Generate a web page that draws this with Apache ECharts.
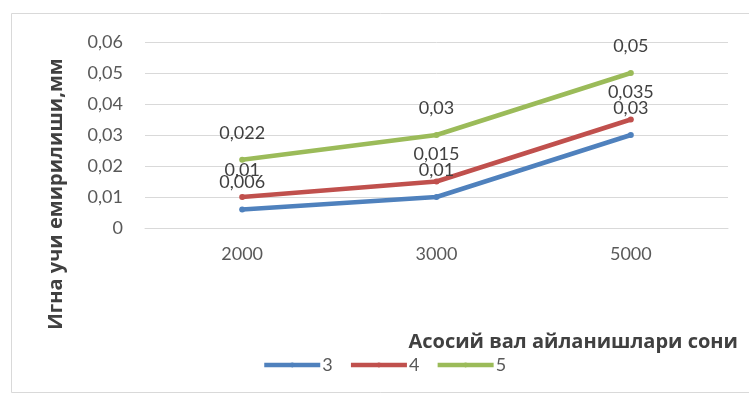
<!DOCTYPE html>
<html>
<head>
<meta charset="utf-8">
<script src="https://cdn.jsdelivr.net/npm/echarts@6/dist/echarts.min.js"></script>
<style>
  html, body { margin: 0; padding: 0; background: #fff; }
  #chart { width: 749px; height: 397px; }
</style>
</head>
<body>
<div id="chart"></div>
<script>
// Shaft speed categories (x axis)
const categories = ['2000', '3000', '5000'];
// Needle tip wear, mm, per series
const series3 = [0.006, 0.01, 0.03];
const series4 = [0.01, 0.015, 0.035];
const series5 = [0.022, 0.03, 0.05];
const seriesNames = ['3', '4', '5'];
const seriesColors = ['#4f81bd', '#c0504d', '#9bbb59'];

const yTitle = 'Игна учи емирилиши,мм';
const xTitle = 'Асосий вал айланишлари сони';

const numFont = 'Lato, "Open Sans", sans-serif';
const titleFont = '"Open Sans", "Noto Sans", sans-serif';

const fmt = v => String(v).replace('.', ',');

function makeLine(name, data, color) {
  return {
    name: name,
    type: 'line',
    data: data,
    symbol: 'circle',
    symbolSize: 6,
    lineStyle: { width: 4.5, color: color },
    itemStyle: { color: color },
    label: {
      show: true,
      position: 'top',
      distance: 15,
      color: '#404040',
      fontFamily: numFont,
      fontSize: 18,
      formatter: p => fmt(p.value)
    },
    emphasis: { disabled: true },
    animation: false
  };
}

const chart = echarts.init(document.getElementById('chart'), null, { renderer: 'canvas' });
chart.setOption({
  backgroundColor: '#fff',
  animation: false,
  grid: { left: 145, right: 21, top: 42, bottom: 169, containLabel: false },
  xAxis: {
    type: 'category',
    data: categories,
    boundaryGap: true,
    axisLine: { show: true, lineStyle: { color: '#d9d9d9', width: 1 } },
    axisTick: { show: false },
    axisLabel: { color: '#595959', fontFamily: numFont, fontSize: 18, margin: 17 }
  },
  yAxis: {
    type: 'value',
    min: 0,
    max: 0.06,
    interval: 0.01,
    axisLine: { show: false },
    axisTick: { show: false },
    splitLine: { lineStyle: { color: '#d9d9d9', width: 1 } },
    axisLabel: {
      color: '#595959', fontFamily: numFont, fontSize: 18, margin: 22,
      formatter: v => fmt(+v.toFixed(2))
    }
  },
  legend: {
    data: seriesNames,
    left: 257,
    top: 351,
    itemWidth: 56,
    itemHeight: 6,
    itemGap: 16,
    lineStyle: { width: 4.5 },
    textStyle: { color: '#595959', fontFamily: numFont, fontSize: 18, padding: [0, 0, 0, -3] }
  },
  graphic: [
    {
      type: 'rect',
      shape: { x: 11.5, y: 13.5, width: 760, height: 379 },
      style: { fill: 'none', stroke: '#d9d9d9', lineWidth: 1 },
      silent: true
    },
    {
      type: 'text',
      x: 56, y: 194,
      rotation: Math.PI / 2,
      style: {
        text: yTitle,
        fill: '#404040',
        font: 'bold 20px ' + titleFont,
        align: 'center',
        verticalAlign: 'middle'
      }
    },
    {
      type: 'text',
      x: 738, y: 342,
      style: {
        text: xTitle,
        fill: '#404040',
        font: 'bold 20px ' + titleFont,
        align: 'right',
        verticalAlign: 'middle'
      }
    }
  ],
  series: [
    makeLine(seriesNames[0], series3, seriesColors[0]),
    makeLine(seriesNames[1], series4, seriesColors[1]),
    makeLine(seriesNames[2], series5, seriesColors[2])
  ]
});
</script>
</body>
</html>
